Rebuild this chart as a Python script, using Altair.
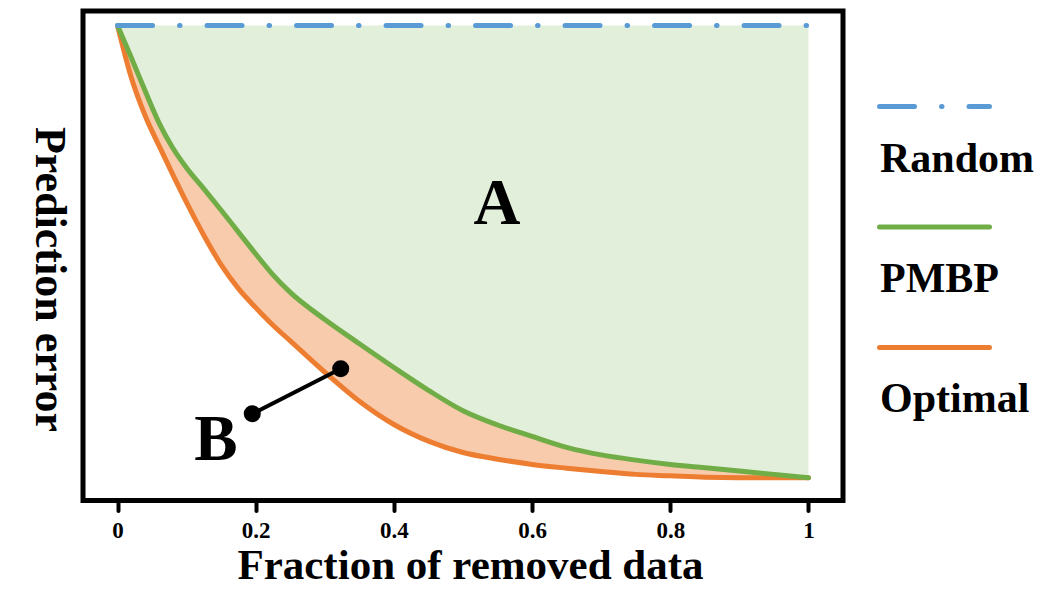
import altair as alt
import pandas as pd

FONT = "Liberation Serif"

# fraction of removed data (x) and prediction error (normalised; Random = 1.0)
frac = [0, 0.02, 0.04, 0.06, 0.08, 0.10, 0.125, 0.15, 0.175, 0.2, 0.225, 0.25,
        0.3, 0.35, 0.4, 0.45, 0.5, 0.55, 0.6, 0.65, 0.7, 0.75, 0.8, 0.85, 0.9, 0.95, 1.0]
pmbp = [1.000, 0.932, 0.862, 0.795, 0.742, 0.700, 0.656, 0.611, 0.565, 0.519, 0.475, 0.438,
        0.381, 0.330, 0.280, 0.232, 0.189, 0.159, 0.135, 0.112, 0.096, 0.085, 0.076, 0.069,
        0.062, 0.055, 0.048]
optimal = [1.000, 0.890, 0.810, 0.747, 0.686, 0.627, 0.558, 0.496, 0.446, 0.406, 0.369, 0.336,
           0.270, 0.209, 0.160, 0.125, 0.101, 0.087, 0.076, 0.068, 0.061, 0.055, 0.052, 0.049,
           0.048, 0.048, 0.048]
random_x = [0, 1]
random_y = [1.0, 1.0]
RANDOM_LEVEL = 1.0

# annotations
label_text = ["A", "B"]
label_x = [0.549, 0.1425]
label_y = [0.583, 0.0863]
conn_x = [0.195]
conn_y = [0.1826]
conn_x2 = [0.323]
conn_y2 = [0.2773]

series_names = ["Random", "PMBP", "Optimal"]
series_colors = ["#5B9BD5", "#70AD47", "#ED7D31"]
series_dash = [[35, 27, 0.5, 27], [1, 0], [1, 0]]

fill_green = "#E2EFDA"
fill_orange = "#F8CBAD"

curves = pd.DataFrame({"frac": frac, "pmbp": pmbp, "optimal": optimal})
rand_df = pd.DataFrame({"frac": random_x, "err": random_y})
labels_df = pd.DataFrame({"t": label_text, "x": label_x, "y": label_y})
conn_df = pd.DataFrame({"x": conn_x, "y": conn_y, "x2": conn_x2, "y2": conn_y2})
dots_df = pd.DataFrame({"x": conn_x + conn_x2, "y": conn_y + conn_y2})
legend_df = pd.DataFrame({"series": series_names})

xscale = alt.Scale(domain=[-0.05, 1.05], nice=False, zero=False)
yscale = alt.Scale(domain=[0, 1.0305], nice=False, zero=False)

xaxis = alt.Axis(
    values=[0, 0.2, 0.4, 0.6, 0.8, 1.0], format=".1~f", grid=False, domain=False,
    tickSize=10, tickWidth=4, tickCap="round", tickColor="black",
    labelFont=FONT, labelFontSize=23, labelFontWeight="bold", labelColor="black", labelPadding=9,
    title="Fraction of removed data", titleFont=FONT, titleFontSize=43, titleFontWeight="bold",
    titleColor="black", titleX=387, titleY=78, titleBaseline="alphabetic", titleAlign="center",
)
yaxis = alt.Axis(
    labels=False, ticks=False, domain=False, grid=False,
    title="Prediction error", titleFont=FONT, titleFontSize=44, titleFontWeight="bold",
    titleColor="black", titleAngle=90, titleX=-47.5, titleY=268, titleBaseline="alphabetic",
    titleAlign="center",
)

X = alt.X("frac:Q", scale=xscale, axis=xaxis)

green_fill = alt.Chart(curves).mark_area(color=fill_green, interpolate="monotone").encode(
    x=X, y=alt.Y("pmbp:Q", scale=yscale, axis=yaxis), y2=alt.datum(RANDOM_LEVEL)
)
orange_fill = alt.Chart(curves).mark_area(color=fill_orange, interpolate="monotone").encode(
    x=X, y=alt.Y("optimal:Q", scale=yscale), y2="pmbp:Q"
)
orange_line = alt.Chart(curves).mark_line(
    color=series_colors[2], strokeWidth=5, strokeCap="round", strokeJoin="round", interpolate="monotone"
).encode(x=X, y=alt.Y("optimal:Q", scale=yscale))
green_line = alt.Chart(curves).mark_line(
    color=series_colors[1], strokeWidth=5, strokeCap="round", strokeJoin="round", interpolate="monotone"
).encode(x=X, y=alt.Y("pmbp:Q", scale=yscale))
random_line = alt.Chart(rand_df).mark_line(
    color=series_colors[0], strokeWidth=5, strokeCap="round", strokeDash=series_dash[0]
).encode(x=X, y=alt.Y("err:Q", scale=yscale))

conn = alt.Chart(conn_df).mark_rule(color="black", strokeWidth=4).encode(
    x=alt.X("x:Q", scale=xscale), y=alt.Y("y:Q", scale=yscale), x2="x2:Q", y2="y2:Q"
)
dots = alt.Chart(dots_df).mark_circle(color="black", size=290, opacity=1).encode(
    x=alt.X("x:Q", scale=xscale), y=alt.Y("y:Q", scale=yscale)
)
texts = alt.Chart(labels_df).mark_text(
    font=FONT, fontSize=65, fontWeight="bold", color="black", align="center", baseline="alphabetic"
).encode(x=alt.X("x:Q", scale=xscale), y=alt.Y("y:Q", scale=yscale), text="t:N")

main = alt.layer(
    green_fill, orange_fill, orange_line, green_line, random_line, conn, dots, texts
).properties(
    width=760, height=489.5,
    view=alt.ViewBackground(stroke="black", strokeWidth=5),
)

LY = alt.Y("series:N", sort=series_names, scale=alt.Scale(type="point", padding=0.7934), axis=None)
leg_lines = alt.Chart(legend_df).mark_rule(strokeWidth=5, strokeCap="round").encode(
    x=alt.value(2.5), x2=alt.value(112.5), y=LY,
    color=alt.Color("series:N", scale=alt.Scale(domain=series_names, range=series_colors), legend=None),
    strokeDash=alt.StrokeDash("series:N", scale=alt.Scale(domain=series_names, range=series_dash), legend=None),
)
leg_text = alt.Chart(legend_df).mark_text(
    font=FONT, fontSize=42, fontWeight="bold", color="black", align="left", baseline="alphabetic", dy=65
).encode(x=alt.value(3), y=LY, text="series:N")

legend_panel = alt.layer(leg_lines, leg_text).properties(
    width=165, height=432, view=alt.ViewBackground(strokeWidth=0)
)

chart = alt.hconcat(main, legend_panel, spacing=31).resolve_scale(
    x="independent", y="independent", color="independent", strokeDash="independent"
).properties(
    padding={"left": 16, "top": 0, "right": 0, "bottom": 0}
).configure_view(strokeWidth=0).configure(background="white")

chart.save("out.html", embed_options={"renderer": "svg", "actions": False})
